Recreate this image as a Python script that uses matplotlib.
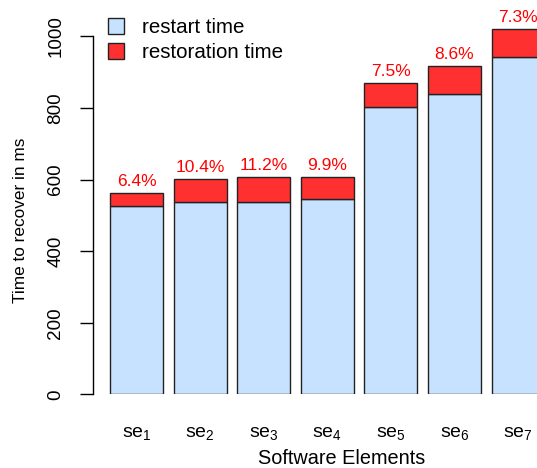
import matplotlib
matplotlib.use("Agg")
import matplotlib.pyplot as plt
from matplotlib.patches import Patch

plt.rcParams['font.family'] = ['Liberation Sans', 'DejaVu Sans']
plt.rcParams['mathtext.fontset'] = 'custom'
plt.rcParams['mathtext.rm'] = 'Liberation Sans'
plt.rcParams['mathtext.it'] = 'Liberation Sans'

categories = ["se$_1$", "se$_2$", "se$_3$", "se$_4$", "se$_5$", "se$_6$", "se$_7$"]
restart_time = [526, 536, 536, 545, 803, 838, 943]
restoration_time = [37, 64, 70, 61, 66, 79, 77]
percent_labels = ["6.4%", "10.4%", "11.2%", "9.9%", "7.5%", "8.6%", "7.3%"]
yticks = [0, 200, 400, 600, 800, 1000]

W, H = 537, 468
fig = plt.figure(figsize=(W / 100, H / 100), dpi=100)

# axes placement in pixels
left_px, right_px = 92.7, 537
bottom_px, top_px = 468 - 394.3, 468
ax = fig.add_axes([left_px / W, bottom_px / H, (right_px - left_px) / W, (top_px - bottom_px) / H])

px_per_unit = 53.0
x0_px = 99.4
ax.set_xlim((left_px - x0_px) / px_per_unit, (right_px - x0_px) / px_per_unit)
ax.set_ylim(0, 394.3 / 0.358)

centers = [0.7 + 1.2 * i for i in range(len(categories))]
blue = "#C6E2FF"
red = "#FF3030"
ax.bar(centers, restart_time, width=1.0, color=blue, edgecolor="#222222", linewidth=1.0)
totals = [a + b for a, b in zip(restart_time, restoration_time)]
ax.bar(centers, restoration_time, bottom=restart_time, width=1.0, color=red,
       edgecolor="#222222", linewidth=1.0)

for c, t, lab in zip(centers, totals, percent_labels):
    ax.text(c, t + 20, lab, ha="center", va="baseline", color="#FF0000", fontsize=12.5)

for s in ["top", "right", "bottom"]:
    ax.spines[s].set_visible(False)
ax.spines["left"].set_bounds(0, 1000)
ax.spines["left"].set_linewidth(1.0)

ax.set_yticks(yticks)
ax.set_yticklabels([str(v) for v in yticks], rotation=90, va="center", fontsize=13.6)
ax.tick_params(axis="y", length=9.5, width=1.0, pad=11)

ax.set_xticks(centers)
ax.set_xticklabels(categories, fontsize=14)
ax.tick_params(axis="x", length=0, pad=22)

fig.text(342 / W, 1 - 459 / H, "Software Elements", ha="center", va="center", fontsize=14.3)
fig.text(21 / W, 1 - 220 / H, "Time to recover in ms", ha="center", va="center",
         rotation=90, fontsize=12.4)

handles = [Patch(facecolor=blue, edgecolor="#222222", linewidth=1.0, label="restart time"),
           Patch(facecolor=red, edgecolor="#222222", linewidth=1.0, label="restoration time")]
fig.legend(handles=handles, loc="upper left", bbox_to_anchor=(108 / W, 1 - 18 / H),
           bbox_transform=fig.transFigure, frameon=False, fontsize=14.8,
           handlelength=0.8, handleheight=0.8, handletextpad=0.85, labelspacing=0.3,
           borderpad=0, borderaxespad=0)

fig.savefig("out.png", dpi=100)
